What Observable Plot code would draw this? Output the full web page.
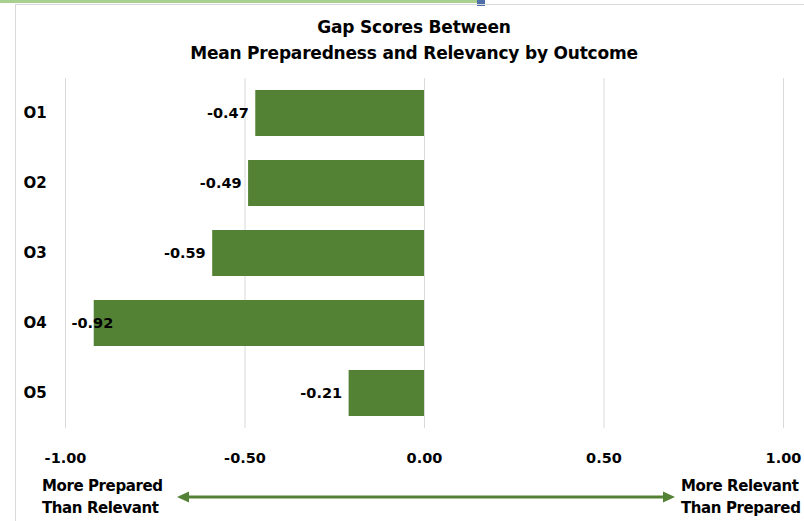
<!DOCTYPE html>
<html>
<head>
<meta charset="utf-8">
<script src="https://cdn.jsdelivr.net/npm/d3@7"></script>
<script src="https://cdn.jsdelivr.net/npm/@observablehq/plot@0.6"></script>
<style>
  html, body { margin: 0; padding: 0; background: #fff; }
  body { width: 804px; height: 521px; position: relative; overflow: hidden; font-family: "DejaVu Sans", sans-serif; font-weight: bold; color: #000; }
  #title { position: absolute; top: 14px; left: 24px; width: 780px; text-align: center; font-size: 17px; line-height: 26px; letter-spacing: -0.2px; }
  #chart { position: absolute; top: 70px; left: 0; }
  .note { position: absolute; top: 475px; font-size: 15px; line-height: 22px; white-space: nowrap; letter-spacing: -0.4px; }
  #noteL { left: 42px; }
  #noteR { left: 681px; }
  #deco { position: absolute; top: 0; left: 0; pointer-events: none; }
</style>
</head>
<body>
<div id="title">Gap Scores Between<br>Mean Preparedness and Relevancy by Outcome</div>
<div id="chart"></div>
<div class="note" id="noteL">More Prepared<br>Than Relevant</div>
<div class="note" id="noteR">More Relevant<br>Than Prepared</div>
<svg id="deco" width="804" height="521">
  <rect x="0" y="0" width="478" height="3" fill="#a9d08e"></rect>
  <rect x="477" y="0" width="8" height="6" fill="#4f6fa8"></rect>
  <line x1="15" y1="4.5" x2="804" y2="4.5" stroke="#d9d9d9" stroke-width="1"></line>
  <line x1="15.5" y1="4" x2="15.5" y2="521" stroke="#d9d9d9" stroke-width="1"></line>
  <line x1="186" y1="497" x2="666" y2="497" stroke="#548235" stroke-width="3"></line>
  <polygon points="177,497 189,491.5 189,502.5" fill="#548235"></polygon>
  <polygon points="675,497 663,491.5 663,502.5" fill="#548235"></polygon>
</svg>
<script>
const outcomes = ["O1", "O2", "O3", "O4", "O5"];
const gaps = [-0.47, -0.49, -0.59, -0.92, -0.21];
const xTicks = [-1, -0.5, 0, 0.5, 1];
const xDomain = [-1, 1];

const data = outcomes.map((o, i) => ({o, v: gaps[i]}));
// a label fits outside the bar end unless it would run past the left edge of the plot area
const fits = d => d.v - 0.145 >= xDomain[0];

const chart = Plot.plot({
  width: 804,
  height: 400,
  marginTop: 8,
  marginBottom: 42,
  marginLeft: 65,
  marginRight: 21,
  x: {domain: xDomain},
  y: {domain: outcomes, paddingInner: 0.34, paddingOuter: 0.17},
  style: {fontFamily: "DejaVu Sans", fontSize: "14px", fontWeight: "bold", color: "#000", background: "#fff"},
  marks: [
    Plot.gridX(xTicks, {stroke: "#d9d9d9", strokeOpacity: 1}),
    Plot.barX(data, {x: "v", y: "o", fill: "#548235"}),
    Plot.text(data.filter(fits), {x: "v", y: "o", text: d => d.v.toFixed(2), textAnchor: "end", dx: -7, fill: "#000", fontSize: 14.5}),
    Plot.text(data.filter(d => !fits(d)), {x: () => xDomain[0], y: "o", text: d => d.v.toFixed(2), textAnchor: "start", dx: 6, fill: "#000", fontSize: 14.5}),
    Plot.axisX(xTicks, {tickSize: 0, tickPadding: 24, tickFormat: d => d.toFixed(2), label: null, fill: "#000", fontSize: 14.5}),
    Plot.axisY({tickSize: 0, tickPadding: 42, textAnchor: "start", label: null, fill: "#000", fontSize: 15})
  ]
});
document.getElementById("chart").appendChild(chart);
</script>
</body>
</html>
